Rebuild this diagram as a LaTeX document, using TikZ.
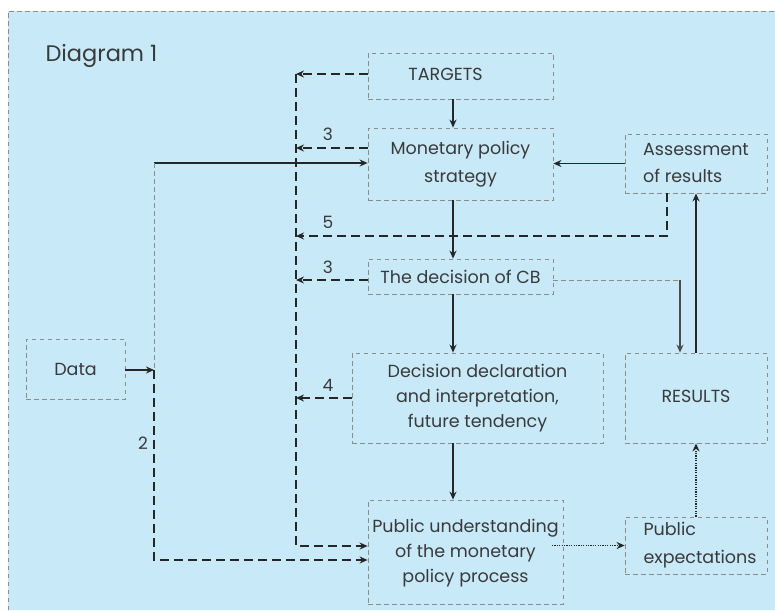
\documentclass[tikz,border=0pt]{standalone}
\usepackage{fontspec}
\setmainfont{Poppins}
\usetikzlibrary{arrows.meta,calc}
\definecolor{panelbg}{HTML}{C7E9F8}
\definecolor{ink}{HTML}{3A3A3A}
\definecolor{rim}{HTML}{8C8C8C}
\begin{document}
\begin{tikzpicture}[x=1pt,y=-1pt,
  box/.style={draw=rim,line width=0.8pt,dash pattern=on 4.5pt off 3.5pt,
    rectangle,inner sep=0pt,text=ink,font=\fontsize{17.5}{25}\selectfont,align=center},
  flow/.style={line width=1.3pt,draw=black!85,-{Stealth[length=8pt,width=7pt]}},
  back/.style={line width=1.8pt,draw=black!85,dash pattern=on 9pt off 5pt,
    -{Stealth[length=8pt,width=7pt]}},
  guide/.style={line width=0.8pt,draw=rim,dash pattern=on 4.5pt off 3.5pt},
  dots/.style={line width=1.4pt,draw=black!85,dash pattern=on 1.2pt off 1.2pt,
    -{Stealth[length=8pt,width=7pt]}},
  num/.style={text=ink,font=\fontsize{17}{20}\selectfont}]
\useasboundingbox (0,0) rectangle (775,610);
% panel
\fill[panelbg] (8,11) rectangle (775,610);
\draw[guide] (8,610) -- (8,11) -- (775,11);
\node[anchor=base west,text=ink,font=\fontsize{22.5}{26}\selectfont] (title) at (42,61) {Diagram 1};

% boxes
\node[box,minimum width=185pt,minimum height=46pt] (targets) at (460.5,76) {\raisebox{4pt}{TARGETS}\hspace*{30pt}};
\node[box,minimum width=185pt,minimum height=72pt,font=\fontsize{17.5}{28}\selectfont] (strategy) at (460.5,164) {Monetary policy\\strategy};
\node[box,minimum width=142pt,minimum height=59pt,align=left,font=\fontsize{17.5}{27}\selectfont] (assess) at (696,163.5) {Assessment\\of results};
\node[box,minimum width=185pt,minimum height=35pt] (dcb) at (460.5,276.5) {The decision of CB};
\node[box,minimum width=251pt,minimum height=90pt] (decl) at (477.5,398) {Decision declaration\\and interpretation,\\future tendency};
\node[box,minimum width=142pt,minimum height=90pt] (results) at (696,398) {\raisebox{4pt}{RESULTS}};
\node[box,minimum width=195pt,minimum height=104pt] (pubund) at (465.5,552) {\raisebox{7pt}{\begin{tabular}{@{}c@{}}Public understanding\\of the monetary\\policy process\end{tabular}}};
\node[box,minimum width=142pt,minimum height=57pt,align=left,font=\fontsize{17.5}{28}\selectfont] (pubexp) at (696,545.5) {\hspace*{8pt}Public\\\hspace*{8pt}expectations};
\node[box,minimum width=99pt,minimum height=60pt] (data) at (75.5,369) {Data};

% helper points
\coordinate (busTop) at (296,74);
\coordinate (busBot) at (296,546);
\coordinate (inTop) at (154,163);
\coordinate (inMid) at (154,370);
\coordinate (inBot) at (154,560);
\coordinate (fbTurn) at (667,236);
\coordinate (cbTurn) at (680,280);

% main chain
\draw[flow] (targets.south -| 453,0) -- (strategy.north -| 453,0);
\draw[flow] (strategy.south -| 453,0) -- (dcb.north -| 453,0);
\draw[flow] (dcb.south -| 453,0) -- (decl.north -| 453,0);
\draw[flow] (decl.south -| 453,0) -- (pubund.north -| 453,0);
\draw[flow] (assess.west) -- (strategy.east |- assess.west);
\draw[flow] (inTop) -- (strategy.west |- inTop);
\draw[flow] (data.east |- inMid) -- (inMid);
\draw[flow] (results.north -| 696,0) -- (assess.south -| 696,0);
\draw[guide] (dcb.east |- cbTurn) -- (cbTurn);
\draw[flow,draw=black!70] (cbTurn) -- (results.north -| cbTurn);

% feedback bus
\draw[back] (busTop) -- (busBot) -- (pubund.west |- busBot);
\draw[back] (targets.west |- busTop) -- (busTop);
\draw[back] ([yshift=16pt]strategy.west) -- ([yshift=16pt]strategy.west -| busTop);
\draw[back] ([yshift=-3.5pt]dcb.west) -- ([yshift=-3.5pt]dcb.west -| busTop);
\draw[back] (decl.west) -- (decl.west -| busTop);
\draw[back] (assess.south -| fbTurn) -- (fbTurn) -- (fbTurn -| busTop);

% data path
\draw[guide] (inTop) -- (inMid);
\draw[back] (inMid) -- (inBot) -- (pubund.west |- inBot);

% expectations
\draw[dots] (552,545.5) -- (pubexp.west);
\draw[dots] (pubexp.north) -- (results.south);

% numbers
\node[num] (n3a) at (328,134) {3};
\node[num] (n5) at (328,222) {5};
\node[num] (n3b) at (328,267) {3};
\node[num] (n4) at (328,385) {4};
\node[num] (n2) at (143,443) {2};
\end{tikzpicture}
\end{document}
